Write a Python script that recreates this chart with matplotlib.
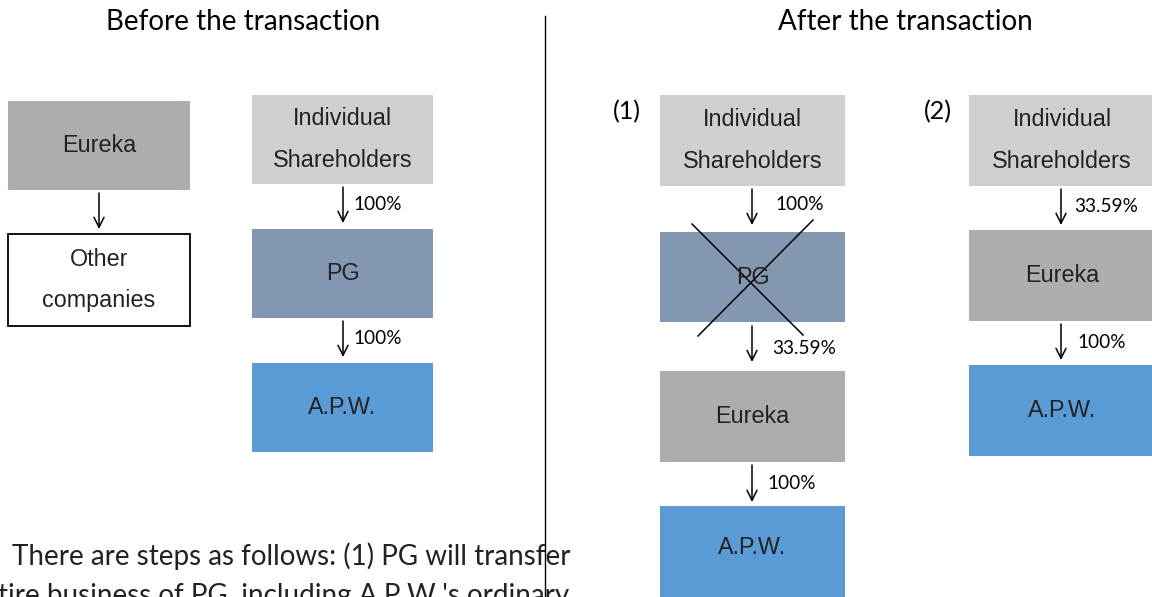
import matplotlib.pyplot as plt
from matplotlib.patches import Rectangle

# labels / values of the diagram
titles = ['Before the transaction', 'After the transaction']
before_boxes = ['Eureka', 'Other\ncompanies', 'Individual\nShareholders', 'PG', 'A.P.W.']
after1_boxes = ['Individual\nShareholders', 'PG', 'Eureka', 'A.P.W.']
after2_boxes = ['Individual\nShareholders', 'Eureka', 'A.P.W.']
before_pcts = ['100%', '100%']
after1_pcts = ['100%', '33.59%', '100%']
after2_pcts = ['33.59%', '100%']
steps = ['(1)', '(2)']
note_lines = ['There are steps as follows: (1) PG will transfer',
              'tire business of PG, including A.P.W.\'s ordinary']

c_share = '#d0cecf'
c_eureka = '#b0acab'
c_pg = '#8497b0'
c_apw = '#5b9bd5'

box_font = 'Liberation Sans'
txt_font = 'Lato'
pct_size = 13.7

fig = plt.figure(figsize=(11.52, 5.97), dpi=100)
ax = fig.add_axes([0, 0, 1, 1])
ax.set_xlim(0, 1152)
ax.set_ylim(597, 0)
ax.axis('off')


def box(x0, y0, x1, y1, label, color, edge='none'):
    ax.add_patch(Rectangle((x0, y0), x1 - x0, y1 - y0, facecolor=color,
                           edgecolor=edge, lw=1.3))
    ax.text((x0 + x1) / 2, (y0 + y1) / 2, label, ha='center', va='center',
            fontsize=16.8, family=box_font, color='#222222', linespacing=2.05)


def arrow(x, y0, y1, pct=None, dx=10):
    ax.annotate('', xy=(x, y1), xytext=(x, y0),
                arrowprops=dict(arrowstyle='->', lw=1.1, color='black',
                                mutation_scale=18, shrinkA=0, shrinkB=0))
    if pct:
        ax.text(x + dx, (y0 + y1) / 2, pct, ha='left', va='center',
                fontsize=pct_size, family=txt_font, color='black')


# titles and divider
ax.text(243, 22, titles[0], ha='center', va='center', fontsize=20, family=txt_font)
ax.text(905, 22, titles[1], ha='center', va='center', fontsize=20, family=txt_font)
ax.plot([545, 545], [16, 597], color='black', lw=1)

# before
box(8, 101, 190, 190, before_boxes[0], c_eureka)
arrow(99, 193, 229)
box(8, 234, 190, 326, before_boxes[1], 'white', edge='black')
box(252, 95, 433, 184, before_boxes[2], c_share)
arrow(343, 187, 223, before_pcts[0])
box(252, 229, 433, 318, before_boxes[3], c_pg)
arrow(343, 321, 357, before_pcts[1])
box(252, 363, 433, 452, before_boxes[4], c_apw)

# after (1)
ax.text(627, 112, steps[0], ha='center', va='center', fontsize=18, family=txt_font)
box(660, 95, 845, 186, after1_boxes[0], c_share)
arrow(752, 189, 225)
ax.text(775, 204, after1_pcts[0], ha='left', va='center', fontsize=pct_size, family=txt_font)
box(660, 232, 845, 322, after1_boxes[1], c_pg)
ax.plot([692, 803], [224, 335], color='black', lw=1.1)
ax.plot([813, 698], [220, 336], color='black', lw=1.1)
arrow(752, 326, 362)
ax.text(772, 348, after1_pcts[1], ha='left', va='center', fontsize=pct_size, family=txt_font)
box(660, 371, 845, 462, after1_boxes[2], c_eureka)
arrow(752, 465, 502, after1_pcts[2], dx=15)
box(660, 506, 845, 620, '', c_apw)
ax.text(752, 548, after1_boxes[3], ha='center', va='center', fontsize=16.8,
        family=box_font, color='#222222')

# after (2)
ax.text(938, 112, steps[1], ha='center', va='center', fontsize=18, family=txt_font)
box(969, 95, 1155, 186, after2_boxes[0], c_share)
arrow(1061, 189, 225, after2_pcts[0], dx=13)
box(969, 230, 1155, 321, after2_boxes[1], c_eureka)
arrow(1061, 324, 360, after2_pcts[1], dx=16)
box(969, 365, 1155, 456, after2_boxes[2], c_apw)

# note text at the bottom (second line runs off the bottom edge, as in the source)
ax.text(12, 556, note_lines[0], ha='left', va='center', fontsize=20, family=txt_font,
        color='#222222', zorder=0)
ax.text(-2, 596, note_lines[1], ha='left', va='center', fontsize=20, family=txt_font,
        color='#222222', zorder=0)

fig.savefig('out.png', dpi=100)
